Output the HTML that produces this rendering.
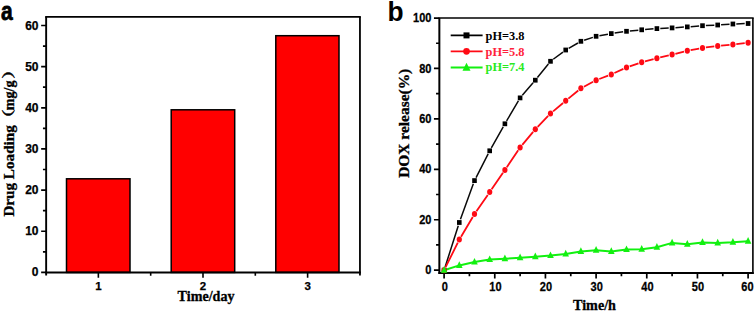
<!DOCTYPE html>
<html><head><meta charset="utf-8"><title>Drug loading and DOX release</title>
<style>
html,body{margin:0;padding:0;background:#fff}
svg{display:block}
.tk{font-family:"Liberation Sans",Arial,sans-serif;font-weight:bold;fill:#000;stroke:#000;stroke-width:0.25}
.sf{font-family:"Liberation Serif","Noto Serif CJK SC",serif;font-weight:bold;fill:#000;stroke:#000;stroke-width:0.3}
.cj{font-family:"Noto Serif CJK SC","Liberation Serif",serif;font-weight:bold;fill:#000;stroke:#000;stroke-width:0.35}
.lg{font-family:"Liberation Serif",serif;font-weight:bold}
.pl{font-family:"Liberation Sans",Arial,sans-serif;font-weight:bold;fill:#000}
</style></head><body>
<svg width="756" height="312" viewBox="0 0 756 312">
<rect width="756" height="312" fill="#fff"/>

<text class="pl" transform="translate(1.0,19.6) scale(0.82,1)" font-size="25.6" text-anchor="start" stroke="#000" stroke-width="0.8">a</text>
<rect x="66.5" y="178.8" width="63.5" height="93.6" fill="#ff0000" stroke="#000" stroke-width="1.5"/>
<rect x="171.2" y="109.8" width="63.5" height="162.6" fill="#ff0000" stroke="#000" stroke-width="1.5"/>
<rect x="275.8" y="35.7" width="63.2" height="236.7" fill="#ff0000" stroke="#000" stroke-width="1.5"/>
<path d="M46.15,275.59999999999997 V16.9" fill="none" stroke="#000" stroke-width="1.9"/>
<path d="M45.15,16.9 H360.84999999999997" fill="none" stroke="#000" stroke-width="1.8"/>
<path d="M359.95,16.9 V275.59999999999997" fill="none" stroke="#000" stroke-width="1.8"/>
<path d="M45.15,272.4 H360.84999999999997" fill="none" stroke="#000" stroke-width="2.0"/>
<path d="M46.05,272.40 h-4.9 M46.05,251.82 h-3.1 M46.05,231.25 h-4.9 M46.05,210.67 h-3.1 M46.05,190.10 h-4.9 M46.05,169.52 h-3.1 M46.05,148.95 h-4.9 M46.05,128.37 h-3.1 M46.05,107.80 h-4.9 M46.05,87.22 h-3.1 M46.05,66.65 h-4.9 M46.05,46.07 h-3.1 M46.05,25.50 h-4.9" stroke="#000" stroke-width="1.7" fill="none"/>
<text class="tk" transform="translate(38.5,276.4)" font-size="12" text-anchor="end">0</text>
<text class="tk" transform="translate(38.5,235.2)" font-size="12" text-anchor="end">10</text>
<text class="tk" transform="translate(38.5,194.1)" font-size="12" text-anchor="end">20</text>
<text class="tk" transform="translate(38.5,152.9)" font-size="12" text-anchor="end">30</text>
<text class="tk" transform="translate(38.5,111.8)" font-size="12" text-anchor="end">40</text>
<text class="tk" transform="translate(38.5,70.6)" font-size="12" text-anchor="end">50</text>
<text class="tk" transform="translate(38.5,29.5)" font-size="12" text-anchor="end">60</text>
<path d="M98.36,272.4 v5.4 M150.68,272.4 v3.3 M203.00,272.4 v5.4 M255.31,272.4 v3.3 M307.62,272.4 v5.4" stroke="#000" stroke-width="1.6" fill="none"/>
<text class="tk" transform="translate(98.4,289.9)" font-size="11.5" text-anchor="middle">1</text>
<text class="tk" transform="translate(203.0,289.9)" font-size="11.5" text-anchor="middle">2</text>
<text class="tk" transform="translate(307.6,289.9)" font-size="11.5" text-anchor="middle">3</text>
<text class="sf" transform="translate(177.6,300.6) scale(1,1.1)" font-size="14.1" text-anchor="start">Time/day</text>
<text class="sf" transform="translate(13.7,216.6) rotate(-90)" font-size="15.17" text-anchor="start">Drug Loading</text>
<text class="cj" transform="translate(12.5,127.2) rotate(-90) scale(1.3,0.95)" font-size="14" text-anchor="start">（</text>
<text class="sf" transform="translate(13.7,110.2) rotate(-90)" font-size="14.1" text-anchor="start">mg/g</text>
<text class="cj" transform="translate(12.5,79.1) rotate(-90) scale(1.3,0.95)" font-size="14" text-anchor="start">）</text>
<text class="pl" transform="translate(387.4,21.3) scale(0.94,1)" font-size="28.0" text-anchor="start">b</text>
<path d="M439.35,274.0 V18.0" fill="none" stroke="#000" stroke-width="2.0"/>
<path d="M438.45000000000005,18.0 H753.6999999999999" fill="none" stroke="#000" stroke-width="1.6"/>
<path d="M752.9,18.0 V274.0" fill="none" stroke="#000" stroke-width="1.6"/>
<path d="M438.45000000000005,273.0 H753.6999999999999" fill="none" stroke="#000" stroke-width="2.0"/>
<path d="M439.35,270.15 h-5.4 M439.35,244.94 h-3.3 M439.35,219.73 h-5.4 M439.35,194.52 h-3.3 M439.35,169.31 h-5.4 M439.35,144.10 h-3.3 M439.35,118.89 h-5.4 M439.35,93.68 h-3.3 M439.35,68.47 h-5.4 M439.35,43.26 h-3.3 M439.35,18.05 h-5.4" stroke="#000" stroke-width="1.7" fill="none"/>
<text class="tk" transform="translate(431.5,274.2) scale(0.92,1)" font-size="12" text-anchor="end">0</text>
<text class="tk" transform="translate(431.5,223.8) scale(0.92,1)" font-size="12" text-anchor="end">20</text>
<text class="tk" transform="translate(431.5,173.4) scale(0.92,1)" font-size="12" text-anchor="end">40</text>
<text class="tk" transform="translate(431.5,123.0) scale(0.92,1)" font-size="12" text-anchor="end">60</text>
<text class="tk" transform="translate(431.5,72.6) scale(0.92,1)" font-size="12" text-anchor="end">80</text>
<text class="tk" transform="translate(431.5,22.1) scale(0.92,1)" font-size="12" text-anchor="end">100</text>
<path d="M444.10,273.0 v5.6 M469.43,273.0 v3.3 M494.77,273.0 v5.6 M520.10,273.0 v3.3 M545.43,273.0 v5.6 M570.77,273.0 v3.3 M596.10,273.0 v5.6 M621.43,273.0 v3.3 M646.77,273.0 v5.6 M672.10,273.0 v3.3 M697.44,273.0 v5.6 M722.77,273.0 v3.3 M748.10,273.0 v5.6" stroke="#000" stroke-width="1.7" fill="none"/>
<text class="tk" transform="translate(444.7,290.9) scale(0.92,1)" font-size="12" text-anchor="middle">0</text>
<text class="tk" transform="translate(495.4,290.9) scale(0.92,1)" font-size="12" text-anchor="middle">10</text>
<text class="tk" transform="translate(546.0,290.9) scale(0.92,1)" font-size="12" text-anchor="middle">20</text>
<text class="tk" transform="translate(596.7,290.9) scale(0.92,1)" font-size="12" text-anchor="middle">30</text>
<text class="tk" transform="translate(647.4,290.9) scale(0.92,1)" font-size="12" text-anchor="middle">40</text>
<text class="tk" transform="translate(698.0,290.9) scale(0.92,1)" font-size="12" text-anchor="middle">50</text>
<text class="tk" transform="translate(747.5,290.9) scale(0.92,1)" font-size="12" text-anchor="middle">60</text>
<text class="sf" transform="translate(573.0,309.6) scale(1,1.09)" font-size="14.15" text-anchor="start">Time/h</text>
<text class="sf" transform="translate(409.1,177.8) rotate(-90)" font-size="15.45" text-anchor="start">DOX release(%)</text>
<path d="M445.13,266.96 L458.27,225.74 M460.46,219.30 L473.34,183.80 M476.05,177.57 L488.16,153.83 M491.37,147.84 L503.23,126.76 M506.62,120.87 L518.38,100.83 M522.32,95.32 L533.09,82.78 M537.43,77.55 L548.37,63.95 M553.23,59.27 L562.97,52.03 M568.65,48.31 L577.95,42.99 M584.13,40.24 L592.87,37.36 M599.45,35.71 L607.95,34.19 M614.66,33.09 L623.14,31.81 M629.88,30.97 L638.32,30.13 M645.09,29.53 L653.51,28.87 M660.30,28.44 L668.71,28.06 M675.49,27.68 L683.91,27.12 M690.69,26.63 L699.11,25.97 M705.90,25.54 L714.31,25.16 M721.09,24.78 L729.51,24.22 M736.30,23.89 L744.70,23.61" fill="none" stroke="#0a0a0a" stroke-width="1.5"/>
<path d="M445.61,267.15 L457.79,242.65 M461.04,236.68 L472.76,216.92 M476.44,211.21 L487.76,194.89 M491.63,189.30 L502.97,172.80 M506.80,167.18 L518.20,150.32 M522.27,144.88 L533.13,131.82 M537.67,126.76 L548.14,115.94 M553.11,111.32 L563.09,102.98 M568.33,98.64 L578.27,90.46 M583.90,86.70 L593.10,81.80 M599.28,78.99 L608.12,75.61 M614.40,72.99 L623.41,68.91 M629.71,66.38 L638.49,63.32 M644.99,61.33 L653.61,59.07 M660.21,57.42 L668.79,55.38 M675.39,53.76 L684.01,51.54 M690.65,50.08 L699.16,48.52 M705.88,47.48 L714.33,46.42 M721.09,45.69 L729.52,44.91 M736.28,44.18 L744.73,43.12" fill="none" stroke="#ff0a14" stroke-width="1.8"/>
<polyline points="444.1,270.2 459.3,265.4 474.5,262.1 489.7,259.6 504.9,258.8 520.1,257.7 535.3,256.7 550.5,255.6 565.7,254.0 580.9,251.5 596.1,250.2 611.3,251.5 626.5,249.6 641.7,249.2 656.9,247.2 672.1,242.9 687.3,244.2 702.5,242.5 717.7,242.9 732.9,242.3 748.1,241.3" fill="none" stroke="#12f010" stroke-width="2.0" stroke-linejoin="round"/>
<rect x="441.8" y="267.8" width="4.6" height="4.8" fill="#000"/>
<rect x="457.0" y="220.1" width="4.6" height="4.8" fill="#000"/>
<rect x="472.2" y="178.2" width="4.6" height="4.8" fill="#000"/>
<rect x="487.4" y="148.4" width="4.6" height="4.8" fill="#000"/>
<rect x="502.6" y="121.4" width="4.6" height="4.8" fill="#000"/>
<rect x="517.8" y="95.5" width="4.6" height="4.8" fill="#000"/>
<rect x="533.0" y="77.8" width="4.6" height="4.8" fill="#000"/>
<rect x="548.2" y="58.9" width="4.6" height="4.8" fill="#000"/>
<rect x="563.4" y="47.6" width="4.6" height="4.8" fill="#000"/>
<rect x="578.6" y="38.9" width="4.6" height="4.8" fill="#000"/>
<rect x="593.8" y="33.9" width="4.6" height="4.8" fill="#000"/>
<rect x="609.0" y="31.2" width="4.6" height="4.8" fill="#000"/>
<rect x="624.2" y="28.9" width="4.6" height="4.8" fill="#000"/>
<rect x="639.4" y="27.4" width="4.6" height="4.8" fill="#000"/>
<rect x="654.6" y="26.2" width="4.6" height="4.8" fill="#000"/>
<rect x="669.8" y="25.5" width="4.6" height="4.8" fill="#000"/>
<rect x="685.0" y="24.5" width="4.6" height="4.8" fill="#000"/>
<rect x="700.2" y="23.3" width="4.6" height="4.8" fill="#000"/>
<rect x="715.4" y="22.6" width="4.6" height="4.8" fill="#000"/>
<rect x="730.6" y="21.6" width="4.6" height="4.8" fill="#000"/>
<rect x="745.8" y="21.1" width="4.6" height="4.8" fill="#000"/>
<ellipse cx="444.1" cy="270.2" rx="2.6" ry="3.0" fill="#ff0a14"/>
<ellipse cx="459.3" cy="239.6" rx="2.6" ry="3.0" fill="#ff0a14"/>
<ellipse cx="474.5" cy="214.0" rx="2.6" ry="3.0" fill="#ff0a14"/>
<ellipse cx="489.7" cy="192.1" rx="2.6" ry="3.0" fill="#ff0a14"/>
<ellipse cx="504.9" cy="170.0" rx="2.6" ry="3.0" fill="#ff0a14"/>
<ellipse cx="520.1" cy="147.5" rx="2.6" ry="3.0" fill="#ff0a14"/>
<ellipse cx="535.3" cy="129.2" rx="2.6" ry="3.0" fill="#ff0a14"/>
<ellipse cx="550.5" cy="113.5" rx="2.6" ry="3.0" fill="#ff0a14"/>
<ellipse cx="565.7" cy="100.8" rx="2.6" ry="3.0" fill="#ff0a14"/>
<ellipse cx="580.9" cy="88.3" rx="2.6" ry="3.0" fill="#ff0a14"/>
<ellipse cx="596.1" cy="80.2" rx="2.6" ry="3.0" fill="#ff0a14"/>
<ellipse cx="611.3" cy="74.4" rx="2.6" ry="3.0" fill="#ff0a14"/>
<ellipse cx="626.5" cy="67.5" rx="2.6" ry="3.0" fill="#ff0a14"/>
<ellipse cx="641.7" cy="62.2" rx="2.6" ry="3.0" fill="#ff0a14"/>
<ellipse cx="656.9" cy="58.2" rx="2.6" ry="3.0" fill="#ff0a14"/>
<ellipse cx="672.1" cy="54.6" rx="2.6" ry="3.0" fill="#ff0a14"/>
<ellipse cx="687.3" cy="50.7" rx="2.6" ry="3.0" fill="#ff0a14"/>
<ellipse cx="702.5" cy="47.9" rx="2.6" ry="3.0" fill="#ff0a14"/>
<ellipse cx="717.7" cy="46.0" rx="2.6" ry="3.0" fill="#ff0a14"/>
<ellipse cx="732.9" cy="44.6" rx="2.6" ry="3.0" fill="#ff0a14"/>
<ellipse cx="748.1" cy="42.7" rx="2.6" ry="3.0" fill="#ff0a14"/>
<path d="M444.1,266.0 l3.3,6.7 h-6.6 z" fill="#12f010"/>
<path d="M459.3,261.2 l3.3,6.7 h-6.6 z" fill="#12f010"/>
<path d="M474.5,257.9 l3.3,6.7 h-6.6 z" fill="#12f010"/>
<path d="M489.7,255.4 l3.3,6.7 h-6.6 z" fill="#12f010"/>
<path d="M504.9,254.6 l3.3,6.7 h-6.6 z" fill="#12f010"/>
<path d="M520.1,253.5 l3.3,6.7 h-6.6 z" fill="#12f010"/>
<path d="M535.3,252.5 l3.3,6.7 h-6.6 z" fill="#12f010"/>
<path d="M550.5,251.4 l3.3,6.7 h-6.6 z" fill="#12f010"/>
<path d="M565.7,249.8 l3.3,6.7 h-6.6 z" fill="#12f010"/>
<path d="M580.9,247.3 l3.3,6.7 h-6.6 z" fill="#12f010"/>
<path d="M596.1,246.0 l3.3,6.7 h-6.6 z" fill="#12f010"/>
<path d="M611.3,247.3 l3.3,6.7 h-6.6 z" fill="#12f010"/>
<path d="M626.5,245.4 l3.3,6.7 h-6.6 z" fill="#12f010"/>
<path d="M641.7,245.0 l3.3,6.7 h-6.6 z" fill="#12f010"/>
<path d="M656.9,243.0 l3.3,6.7 h-6.6 z" fill="#12f010"/>
<path d="M672.1,238.7 l3.3,6.7 h-6.6 z" fill="#12f010"/>
<path d="M687.3,240.0 l3.3,6.7 h-6.6 z" fill="#12f010"/>
<path d="M702.5,238.3 l3.3,6.7 h-6.6 z" fill="#12f010"/>
<path d="M717.7,238.7 l3.3,6.7 h-6.6 z" fill="#12f010"/>
<path d="M732.9,238.1 l3.3,6.7 h-6.6 z" fill="#12f010"/>
<path d="M748.1,237.1 l3.3,6.7 h-6.6 z" fill="#12f010"/>
<path d="M450.7,35.4 H482.6" stroke="#000" stroke-width="1.9" fill="none"/>
<rect x="463.5" y="32.4" width="6.0" height="6.0" fill="#000"/>
<text class="lg" transform="translate(485.6,39.75)" font-size="12.35" text-anchor="start" style="fill:#000">pH=3.8</text>
<path d="M450.7,51.35 H482.6" stroke="#ff0a14" stroke-width="1.9" fill="none"/>
<circle cx="466.5" cy="51.35" r="3.35" fill="#ff0a14"/>
<text class="lg" transform="translate(485.6,55.6)" font-size="12.35" text-anchor="start" style="fill:#ff1f3c">pH=5.8</text>
<path d="M450.7,67.55 H482.6" stroke="#12f010" stroke-width="1.9" fill="none"/>
<path d="M466.5,62.75 l4.0,7.9 h-8.0 z" fill="#12f010"/>
<text class="lg" transform="translate(485.6,71.4)" font-size="12.35" text-anchor="start" style="fill:#2aea1e">pH=7.4</text>
</svg>
</body></html>
